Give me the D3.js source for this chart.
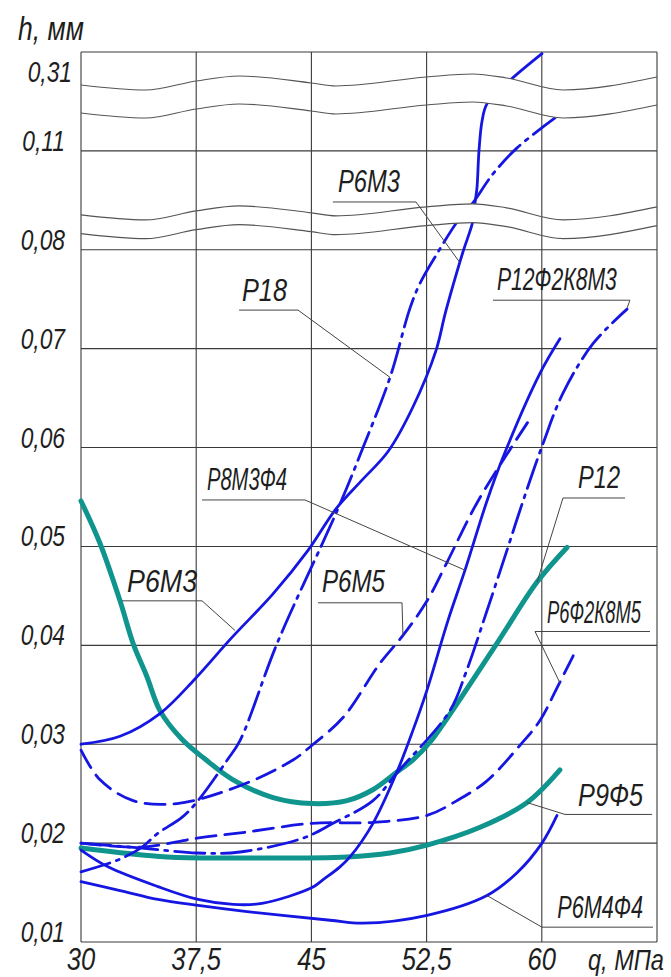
<!DOCTYPE html>
<html lang="ru">
<head>
<meta charset="UTF-8">
<title>h(q)</title>
<script src="https://d3js.org/d3.v7.min.js"></script>
<style>
  body { margin: 0; background: #fff; }
  svg text {
    font-family: "Liberation Sans", Arial, sans-serif;
    font-style: italic;
    fill: #1e1e1e;
  }
</style>
</head>
<body>
<svg id="chart" width="671" height="977"></svg>
<script>
// axis ticks
const qTicks = [30, 37.5, 45, 52.5, 60, 67.5];
const qLabels = ["30", "37,5", "45", "52,5", "60"];
const hTicks = [0.01, 0.02, 0.03, 0.04, 0.05, 0.06, 0.07, 0.08, 0.11, 0.31]; // broken above 0,08
const hLabels = ["0,01", "0,02", "0,03", "0,04", "0,05", "0,06", "0,07", "0,08", "0,11", "0,31"];

// curves (q in MPa, h in mm)
const p12Q = [30, 31.24, 32.54, 33.39, 34.3, 35.14, 36.57, 38.07, 39.9, 42.5, 45.04, 47.32, 49.0, 50.57, 51.6, 52.72, 53.83, 57.08, 59.69, 61.64];
const p12H = [0.0546, 0.0503, 0.0445, 0.0402, 0.0368, 0.0334, 0.0305, 0.0285, 0.0264, 0.0246, 0.0240, 0.0243, 0.0254, 0.0272, 0.0284, 0.0302, 0.0326, 0.0402, 0.0464, 0.0499];

const p9f5Q = [30, 35.6, 40.35, 47.32, 50.12, 52.53, 55.98, 59.04, 61.18];
const p9f5H = [0.0195, 0.0186, 0.0185, 0.0186, 0.0190, 0.0198, 0.0216, 0.0241, 0.0274];

const p6m3Q = [30, 32.54, 35.14, 37.42, 39.77, 42.5, 44.78, 46.6, 48.23, 49.99, 51.61, 53.11, 53.7, 54.22, 54.87, 55.52, 55.65, 55.78, 55.91, 56.11, 56.43, 57.8, 60.01];
const p6m3H = [0.0300, 0.0308, 0.0331, 0.0366, 0.0407, 0.0452, 0.0496, 0.0538, 0.0566, 0.0596, 0.0641, 0.0698, 0.0735, 0.0764, 0.0798, 0.0888, 0.0942, 0.0988, 0.11, 0.1706, 0.205, 0.249, 0.3066];

const p8m3f4Q = [30, 31.76, 35.01, 37.62, 39.9, 41.78, 45.04, 45.76, 46.86, 47.51, 49.01, 50.57, 51.61, 52.53, 53.89, 55.0, 56.43, 57.47, 59.88, 61.18];
const p8m3f4H = [0.0193, 0.0176, 0.0156, 0.0143, 0.0138, 0.0139, 0.0155, 0.0163, 0.0176, 0.0186, 0.0220, 0.0272, 0.0314, 0.0355, 0.0425, 0.0476, 0.0546, 0.0590, 0.0675, 0.0710];

const p6m4f4Q = [30, 32.54, 35.01, 37.62, 40.68, 46.22, 48.36, 52.53, 56.43, 58.39, 60.01, 60.99];
const p6m4f4H = [0.0161, 0.0152, 0.0143, 0.0137, 0.0131, 0.0122, 0.0119, 0.0127, 0.0147, 0.0170, 0.0200, 0.0228];

const p18Q = [30, 32.41, 33.98, 35.01, 36.57, 37.62, 39.52, 40.36, 42.77, 46.67, 48.36, 50.12, 51.42, 52.07, 53.18, 54.54, 55.46, 56.82, 58.39, 60.86];
const p18H = [0.0171, 0.0183, 0.0196, 0.0210, 0.0226, 0.0243, 0.0284, 0.0304, 0.0402, 0.0536, 0.0600, 0.0671, 0.0741, 0.0766, 0.0796, 0.0888, 0.0939, 0.1030, 0.1161, 0.1767];

const p12f2k8m3Q = [30, 33.97, 37.55, 40.35, 44.45, 46.41, 49.01, 50.57, 54.02, 55.07, 56.43, 57.73, 58.78, 60.08, 61.38, 63.33, 65.55];
const p12f2k8m3H = [0.0200, 0.0195, 0.0190, 0.0191, 0.0205, 0.0220, 0.0243, 0.0271, 0.0334, 0.0373, 0.0435, 0.0496, 0.0546, 0.0604, 0.0655, 0.0705, 0.0740];

const p6m5Q = [30, 31.24, 33.39, 36.25, 40.35, 43.8, 45.04, 47.06, 49.47, 50.96, 52.53, 53.83, 55.85, 59.23];
const p6m5H = [0.0294, 0.0264, 0.0243, 0.0240, 0.0258, 0.0284, 0.0299, 0.0327, 0.0382, 0.0410, 0.0445, 0.0484, 0.0546, 0.0629];

const p6f2k8m5Q = [30, 33.97, 37.55, 40.68, 45.04, 49.01, 52.53, 54.48, 56.43, 58.58, 59.88, 60.99, 62.16];
const p6f2k8m5H = [0.0200, 0.0196, 0.0205, 0.0211, 0.0220, 0.0221, 0.0228, 0.0243, 0.0263, 0.0299, 0.0324, 0.0357, 0.0393];

// axis break: two wavy bands (levels of the upper and lower edge)
const breakTop = [0.2494, 0.0915];
const breakBottom = [0.1928, 0.0858];
const waveQ = [30, 34.2, 37.5, 40.3, 45, 46.6, 52.5, 55.5, 57.7, 61.4, 67.5];
const waveDy = [3, 8, -1, -6, 1, 4, -5, -8, -4, 8, -5];

const BLUE = "#1616e2", TEAL = "#0f948e";

const series = [
  { q: p12Q, h: p12H, color: TEAL, width: 5, dash: null },
  { q: p9f5Q, h: p9f5H, color: TEAL, width: 5, dash: null },
  { q: p6m3Q, h: p6m3H, color: BLUE, width: 2.8, dash: null },
  { q: p8m3f4Q, h: p8m3f4H, color: BLUE, width: 2.8, dash: null },
  { q: p6m4f4Q, h: p6m4f4H, color: BLUE, width: 2.8, dash: null },
  { q: p18Q, h: p18H, color: BLUE, width: 2.8, dash: "30,7,3,7" },
  { q: p12f2k8m3Q, h: p12f2k8m3H, color: BLUE, width: 2.8, dash: "30,7,3,7" },
  { q: p6m5Q, h: p6m5H, color: BLUE, width: 2.8, dash: "20,9" },
  { q: p6f2k8m5Q, h: p6f2k8m5H, color: BLUE, width: 2.8, dash: "20,9" }
];

// labels with leader lines, in data units
const notes = [
  { text: "Р6М3", at: [46.73, 0.0975], w: 62, leader: [[46.4, 0.0945], [51.81, 0.0945], [54.67, 0.0787]] },
  { text: "Р18", at: [40.48, 0.0748], w: 45, leader: [[40.29, 0.0739], [44.13, 0.0739], [50.12, 0.0671]] },
  { text: "Р12Ф2К8М3", at: [57.08, 0.0759], w: 120, leader: [[56.82, 0.0749], [65.74, 0.0749], [65.55, 0.0741]] },
  { text: "Р8М3Ф4", at: [38.2, 0.0557], w: 80, leader: [[37.88, 0.0547], [44.58, 0.0547], [55.0, 0.0476]] },
  { text: "Р12", at: [62.36, 0.0559], w: 42, leader: [[65.42, 0.0549], [61.38, 0.0549], [59.69, 0.0464]] },
  { text: "Р6М3", at: [33.0, 0.0454], w: 70, leader: [[32.67, 0.0445], [37.88, 0.0445], [40.03, 0.0415]] },
  { text: "Р6М5", at: [45.69, 0.0454], w: 63, leader: [[45.43, 0.0443], [50.9, 0.0443], [50.96, 0.0410]] },
  { text: "Р6Ф2К8М5", at: [60.34, 0.0423], w: 94, leader: [[67.04, 0.0414], [59.56, 0.0414], [61.18, 0.0362]] },
  { text: "Р9Ф5", at: [62.36, 0.0238], w: 65, leader: [[67.17, 0.0229], [61.51, 0.0229], [59.04, 0.0241]] },
  { text: "Р6М4Ф4", at: [61.0, 0.0124], w: 86, leader: [[67.24, 0.0115], [60.01, 0.0115], [56.43, 0.0147]] }
];

const mLeft = 81, mRight = 657, mTop = 52, mBottom = 942;
const svg = d3.select("#chart");

const x = d3.scaleLinear().domain([qTicks[0], qTicks[qTicks.length - 1]]).range([mLeft, mRight]);
// polylinear scale: every tick row gets the same height
const y = d3.scaleLinear()
  .domain(hTicks)
  .range(hTicks.map((d, i) => mBottom - i * (mBottom - mTop) / (hTicks.length - 1)));

// place a text at (px, py) and narrow it horizontally like a drafting font
// k: fixed squeeze factor, or a function returning the wanted width
function place(sel, px, py, k) {
  sel.each(function (d, i) {
    const len = this.getComputedTextLength();
    const s = typeof k === "function" ? k(d, i) / len : k;
    d3.select(this).attr("transform", `translate(${px(d, i)},${py(d, i)}) scale(${s},1)`);
  });
}

// grid
const grid = svg.append("g").attr("stroke", "#3a3a3a").attr("stroke-width", 1.1);
grid.selectAll(".v").data(qTicks).join("line").attr("class", "v")
  .attr("x1", d => x(d)).attr("x2", d => x(d)).attr("y1", mTop).attr("y2", mBottom);
grid.selectAll(".h").data(hTicks).join("line").attr("class", "h")
  .attr("x1", mLeft).attr("x2", mRight).attr("y1", d => y(d)).attr("y2", d => y(d));

// curves
const line = d3.line().curve(d3.curveCatmullRom.alpha(0.5));
svg.append("g").attr("fill", "none").attr("stroke-linecap", "round")
  .selectAll("path").data(series).join("path")
  .attr("d", s => line(s.q.map((q, i) => [x(q), y(s.h[i])])))
  .attr("stroke", s => s.color)
  .attr("stroke-width", s => s.width)
  .attr("stroke-dasharray", s => s.dash);

// axis break bands
const wave = (level) => d3.line().curve(d3.curveMonotoneX)(waveQ.map((q, i) => [x(q), y(level) + waveDy[i]]));
const bandArea = (i) => d3.area().curve(d3.curveMonotoneX)
  .x(d => x(d[0])).y0(d => y(breakBottom[i]) + d[1]).y1(d => y(breakTop[i]) + d[1])(waveQ.map((q, k) => [q, waveDy[k]]));

const clip = svg.append("clipPath").attr("id", "bands");
breakTop.forEach((t, i) => {
  svg.append("path").attr("d", bandArea(i)).attr("fill", "#fff");
  clip.append("path").attr("d", bandArea(i));
});
svg.append("g").attr("clip-path", "url(#bands)").attr("stroke", "#3a3a3a").attr("stroke-width", 1.1)
  .selectAll("line").data(qTicks).join("line")
  .attr("x1", d => x(d)).attr("x2", d => x(d)).attr("y1", mTop).attr("y2", mBottom);
svg.append("g").attr("fill", "none").attr("stroke", "#555").attr("stroke-width", 1.1)
  .selectAll("path").data(breakTop.concat(breakBottom)).join("path")
  .attr("d", d => wave(d));

// leaders and labels
const lg = svg.append("g");
lg.selectAll("path").data(notes).join("path")
  .attr("d", n => d3.line()(n.leader.map(p => [x(p[0]), y(p[1])])))
  .attr("fill", "none").attr("stroke", "#444").attr("stroke-width", 1);
lg.selectAll("text").data(notes).join("text")
  .attr("font-size", 31)
  .text(n => n.text)
  .call(place, n => x(n.at[0]), n => y(n.at[1]), n => n.w);

// tick labels
svg.append("g").selectAll("text").data(hTicks).join("text")
  .attr("text-anchor", "end").attr("font-size", 30)
  .text((d, i) => hLabels[i])
  .call(place,
    (d, i) => i === hTicks.length - 1 ? 72 : 65,
    (d, i) => i === hTicks.length - 1 ? y(d) + 30 : y(d),
    0.76);
svg.append("g").selectAll("text").data(qLabels).join("text")
  .attr("text-anchor", "middle").attr("font-size", 32)
  .text(d => d)
  .call(place, (d, i) => x(qTicks[i]), () => 970, 0.8);

// axis titles
svg.append("text").datum("h").attr("font-size", 34).text("h, мм")
  .call(place, () => 18, () => 40, 0.78);
svg.append("text").datum("q").attr("font-size", 29).text("q, МПа")
  .call(place, () => 588, () => 970, () => 76);
</script>
</body>
</html>
